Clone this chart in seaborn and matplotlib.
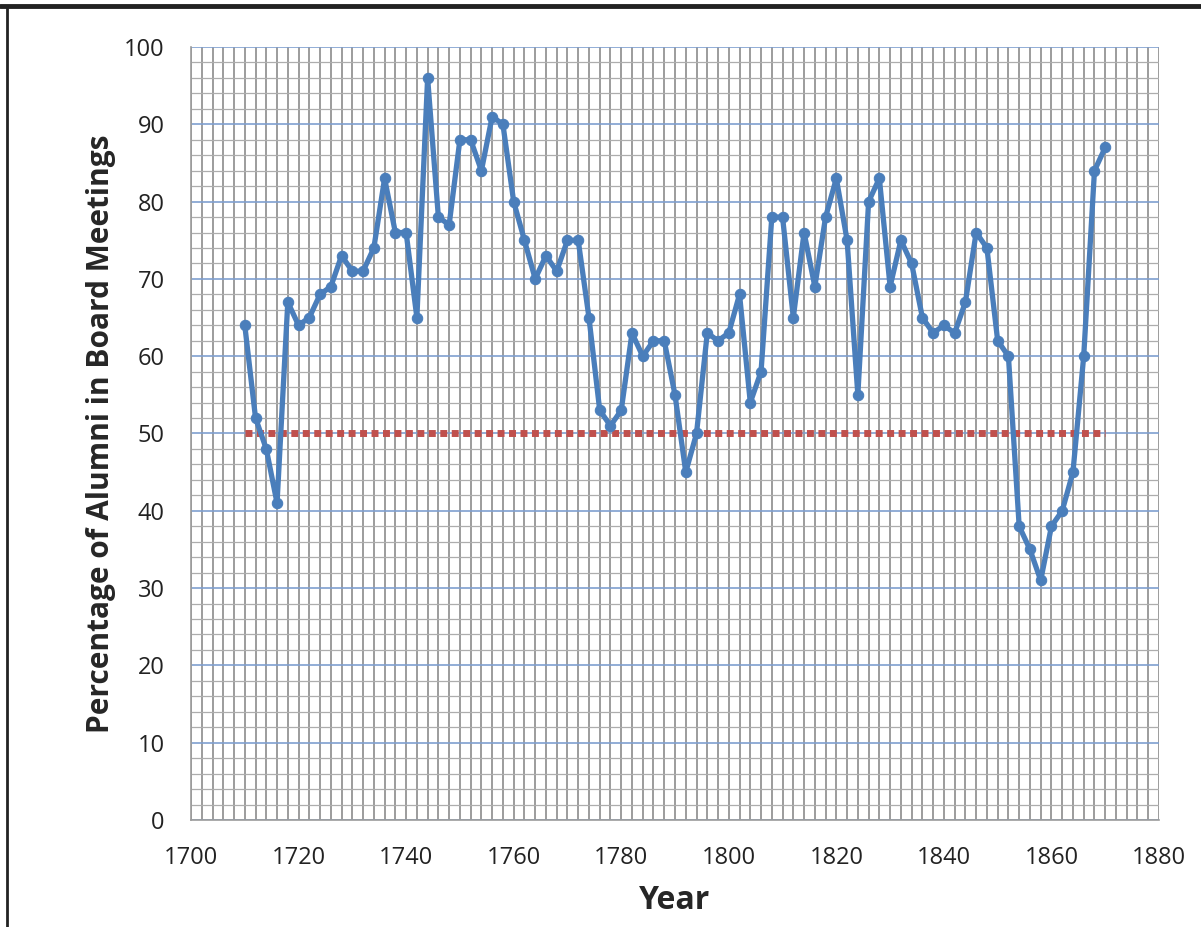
import matplotlib
matplotlib.use("Agg")
import matplotlib.pyplot as plt
from matplotlib.lines import Line2D
from matplotlib.ticker import MultipleLocator
import numpy as np
import pandas as pd
import seaborn as sns

years = list(range(1710, 1871, 2))
alumni_pct = [64, 52, 48, 41, 67, 64, 65, 68, 69, 73,
              71, 71, 74, 83, 76, 76, 65, 96, 78, 77,
              88, 88, 84, 91, 90, 80, 75, 70, 73, 71,
              75, 75, 65, 53, 51, 53, 63, 60, 62, 62,
              55, 45, 50, 63, 62, 63, 68, 54, 58, 78,
              78, 65, 76, 69, 78, 83, 75, 55, 80, 83,
              69, 75, 72, 65, 63, 64, 63, 67, 76, 74,
              62, 60, 38, 35, 31, 38, 40, 45, 60, 84, 87]
threshold_years = [1710, 1870]
threshold_vals = [50, 50]

x_ticks = list(range(1700, 1881, 20))
y_ticks = list(range(0, 101, 10))

df = pd.DataFrame({"Year": years, "Pct": alumni_pct})
df_thr = pd.DataFrame({"Year": threshold_years, "Pct": threshold_vals})

sns.set_style("white")
plt.rcParams["font.family"] = ["Open Sans", "DejaVu Sans"]

fig = plt.figure(figsize=(12.01, 9.27), dpi=100)
ax = fig.add_axes([191/1201, 1-820/927, (1159-191)/1201, (820-47)/927])

ax.set_xlim(1700, 1880)
ax.set_ylim(0, 100)
ax.xaxis.set_major_locator(MultipleLocator(20))
ax.yaxis.set_major_locator(MultipleLocator(10))
ax.xaxis.set_minor_locator(MultipleLocator(2))
ax.yaxis.set_minor_locator(MultipleLocator(2))

ax.grid(which="minor", axis="x", color="#9c9c9c", linewidth=1.4)
ax.grid(which="minor", axis="y", color="#adadad", linewidth=0.9)
ax.grid(which="major", axis="x", color="#9c9c9c", linewidth=1.4)
ax.grid(which="major", axis="y", color="#7f9fcf", linewidth=1.2)
ax.set_axisbelow(True)

sns.lineplot(data=df_thr, x="Year", y="Pct", ax=ax, color="#c0504d",
             linewidth=5.0, linestyle=(0, (1.0, 0.65)), dash_capstyle="butt",
             zorder=3)
sns.lineplot(data=df, x="Year", y="Pct", ax=ax, color="#4a7ebb",
             linewidth=3.8, marker="o", markersize=7.5,
             markeredgecolor="#4a7ebb", zorder=4)

for s in ["top", "right"]:
    ax.spines[s].set_visible(False)
ax.spines["left"].set_color("#9c9c9c")
ax.spines["bottom"].set_color("#9c9c9c")
ax.spines["left"].set_linewidth(1.2)
ax.spines["bottom"].set_linewidth(1.2)

ax.set_xticks(x_ticks)
ax.set_yticks(y_ticks)
ax.tick_params(axis="x", which="major", direction="out", length=9, width=1.2,
               color="#9c9c9c", labelsize=17, labelcolor="#222222", pad=10)
ax.tick_params(axis="y", which="major", direction="out", length=9, width=1.2,
               color="#7f9fcf", labelsize=17, labelcolor="#222222", pad=10)
ax.tick_params(which="minor", length=0)

ax.set_xlabel("Year", fontsize=23, fontweight="bold", labelpad=10)
ax.set_ylabel("Percentage of Alumni in Board Meetings", fontsize=21.5,
              fontweight="bold", labelpad=6)

# outer frame (dark top bar and left edge)
fig.add_artist(Line2D([0, 1], [1-6/927, 1-6/927], transform=fig.transFigure,
                      color="#222222", linewidth=3.5))
fig.add_artist(Line2D([7/1201, 7/1201], [0, 1-6/927], transform=fig.transFigure,
                      color="#222222", linewidth=2))

fig.savefig("out.png", dpi=100)
